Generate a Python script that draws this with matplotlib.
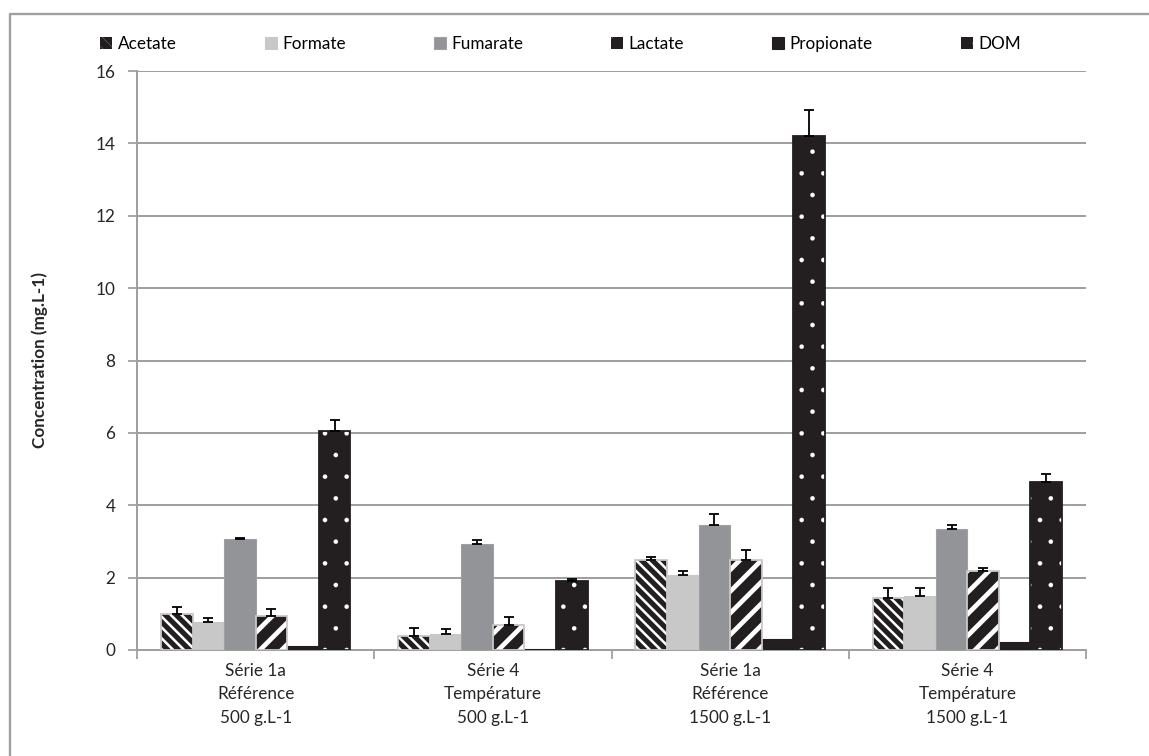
import numpy as np
import matplotlib.pyplot as plt
from matplotlib.lines import Line2D

# --------------------------------------------------
# Data
# --------------------------------------------------
groups = ["Série 1a\nRéférence\n500 g.L-1",
          "Série 4\nTempérature\n500 g.L-1",
          "Série 1a\nRéférence\n1500 g.L-1",
          "Série 4\nTempérature\n1500 g.L-1"]
series = ["Acetate", "Formate", "Fumarate", "Lactate", "Propionate", "DOM"]

acetate = [1.00, 0.40, 2.50, 1.45]
formate = [0.78, 0.45, 2.07, 1.50]
fumarate = [3.07, 2.92, 3.45, 3.35]
lactate = [0.93, 0.70, 2.48, 2.17]
propionate = [0.10, 0.03, 0.30, 0.22]
dom = [6.05, 1.92, 14.20, 4.65]

acetate_err = [0.18, 0.20, 0.08, 0.25]
formate_err = [0.10, 0.12, 0.10, 0.20]
fumarate_err = [0.03, 0.12, 0.30, 0.10]
lactate_err = [0.20, 0.22, 0.28, 0.10]
propionate_err = [0.0, 0.0, 0.0, 0.0]
dom_err = [0.30, 0.05, 0.72, 0.22]

values = [acetate, formate, fumarate, lactate, propionate, dom]
errors = [acetate_err, formate_err, fumarate_err, lactate_err, propionate_err, dom_err]

# style per series: facecolor, hatch colour / edge, hatch, outline colour, hatch linewidth
DARK = "#231f20"
styles = [
    (DARK, "white", "\\\\\\\\", "#c8c8c8", 1.4),
    ("#c8c8c8", "#c8c8c8", None, None, 1.0),
    ("#929497", "#a0a0a0", None, None, 1.0),
    (DARK, "white", "//", "#c8c8c8", 2.6),
    (DARK, DARK, None, None, 1.0),
    (DARK, "white", ".", DARK, 0.1),
]

plt.rcParams["font.family"] = ["Lato", "DejaVu Sans"]
plt.rcParams["font.size"] = 9.5

fig = plt.figure(figsize=(1149 / 130, 756 / 130), dpi=130)
ax = fig.add_axes([137 / 1149, 1 - 650 / 756, (1086 - 137) / 1149, (650 - 71) / 756])

x = np.arange(len(groups)) + 0.5
w = 0.133

handles = []
for i, name in enumerate(series):
    fc, hc, hatch, outline, hlw = styles[i]
    plt.rcParams["hatch.linewidth"] = hlw
    pos = x + (i - 2.5) * w
    if hatch:
        b = ax.bar(pos, values[i], w, color=fc, edgecolor=hc, hatch=hatch,
                   linewidth=0, label=name, zorder=3)
        ax.bar(pos, values[i], w, fill=False, edgecolor=outline, linewidth=1.0, zorder=4)
    else:
        b = ax.bar(pos, values[i], w, color=fc, edgecolor=hc, linewidth=0.6,
                   label=name, zorder=3)
    handles.append(b)
    err = np.array(errors[i])
    if err.any():
        ax.errorbar(pos, values[i], yerr=[np.zeros_like(err), err], fmt="none",
                    ecolor="black", elinewidth=1.0, capsize=3.0, capthick=1.0, zorder=5)

ax.set_ylim(0, 16)
ax.set_yticks(np.arange(0, 17, 2))
ax.set_xlim(0, 4)
ax.set_xticks(x)
ax.set_xticklabels(groups, linespacing=1.6)
ax.set_xticks(np.arange(0, 5), minor=True)
ax.tick_params(axis="x", which="major", length=0, pad=7, colors="#262626")
ax.tick_params(axis="x", which="minor", length=5, color="#a0a0a0", width=1.0)
ax.tick_params(axis="y", length=5, width=1.0, pad=7, colors="#262626")
ax.tick_params(axis="y", color="#a0a0a0")

ax.grid(axis="y", color="#a0a0a0", linewidth=1.1, zorder=0)
ax.set_axisbelow(True)
for s in ["top", "right"]:
    ax.spines[s].set_visible(False)
for s in ["left", "bottom"]:
    ax.spines[s].set_color("#a0a0a0")
    ax.spines[s].set_linewidth(1.1)

ax.set_ylabel("Concentration (mg.L-1)", fontweight="bold", labelpad=26, color="#262626")

fig.legend(handles=handles, labels=series, loc="center", ncol=6,
           bbox_to_anchor=(0.488, 1 - 44 / 756), frameon=False,
           handlelength=0.7, handleheight=0.7, handletextpad=0.3,
           columnspacing=5.15, fontsize=9.5)

# outer chart frame (left and top edges)
fig.add_artist(Line2D([10 / 1149, 10 / 1149, 1.0], [0.0, 1 - 14 / 756, 1 - 14 / 756],
                      transform=fig.transFigure, color="#a0a0a0", linewidth=1.3))

fig.savefig("out.png", dpi=130)
